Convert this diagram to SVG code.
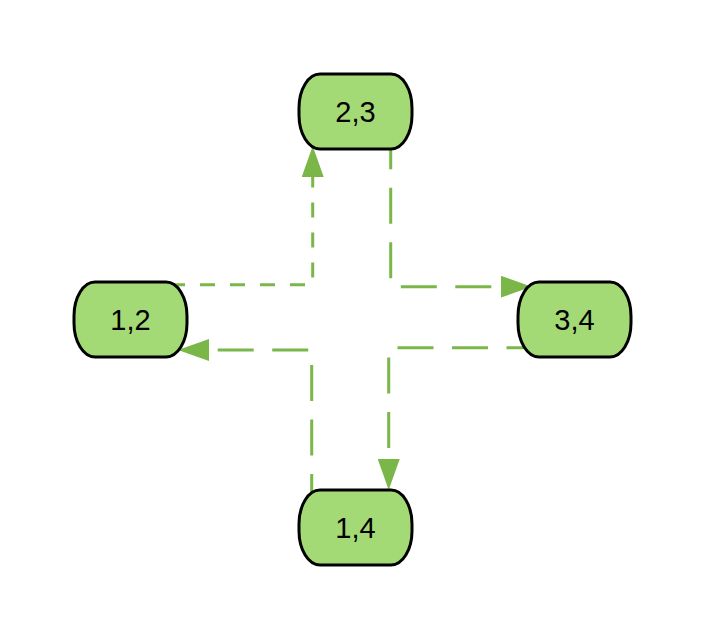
<svg xmlns="http://www.w3.org/2000/svg" width="707" height="641" viewBox="0 0 707 641">
<style>
.node rect{fill:#a4da76;stroke:#000;stroke-width:3}
.node text{font-family:"Liberation Sans",Arial,sans-serif;font-size:29px;fill:#000;text-anchor:middle;dominant-baseline:central}
.edge{fill:none;stroke:#7ab648;stroke-width:3}
.long{stroke-dasharray:36 18.5}
.short{stroke-dasharray:15 15}
</style>
<defs>
<marker id="arr" markerUnits="userSpaceOnUse" viewBox="0 0 31 22" markerWidth="31" markerHeight="22" refX="0" refY="11" orient="auto">
<path d="M0,0 L31,11 L0,22 z" fill="#7ab648"/>
</marker>
</defs>
<rect width="707" height="641" fill="#fff"/>
<g id="connectors">
<path class="edge short" d="M170,284.7 L312.7,284.7 L312.7,177" marker-end="url(#arr)"/>
<path class="edge long" d="M390.7,133.3 L390.7,286.7 L500.7,286.7" marker-end="url(#arr)"/>
<path class="edge long" d="M542.5,347.7 L388.7,347.7 L388.7,459" marker-end="url(#arr)"/>
<path class="edge long" d="M311.7,510 L311.7,350 L209,350" marker-end="url(#arr)"/>
</g>
<g id="n23" class="node"><rect x="299" y="74" width="113" height="75" rx="21" ry="34"/><text x="355.5" y="111.5">2,3</text></g>
<g id="n12" class="node"><rect x="74" y="282" width="113" height="75" rx="21" ry="34"/><text x="130.5" y="319.5">1,2</text></g>
<g id="n34" class="node"><rect x="518" y="282" width="113" height="75" rx="21" ry="34"/><text x="574.5" y="319.5">3,4</text></g>
<g id="n14" class="node"><rect x="299" y="490" width="113" height="75" rx="21" ry="34"/><text x="355.5" y="527.5">1,4</text></g>
</svg>
